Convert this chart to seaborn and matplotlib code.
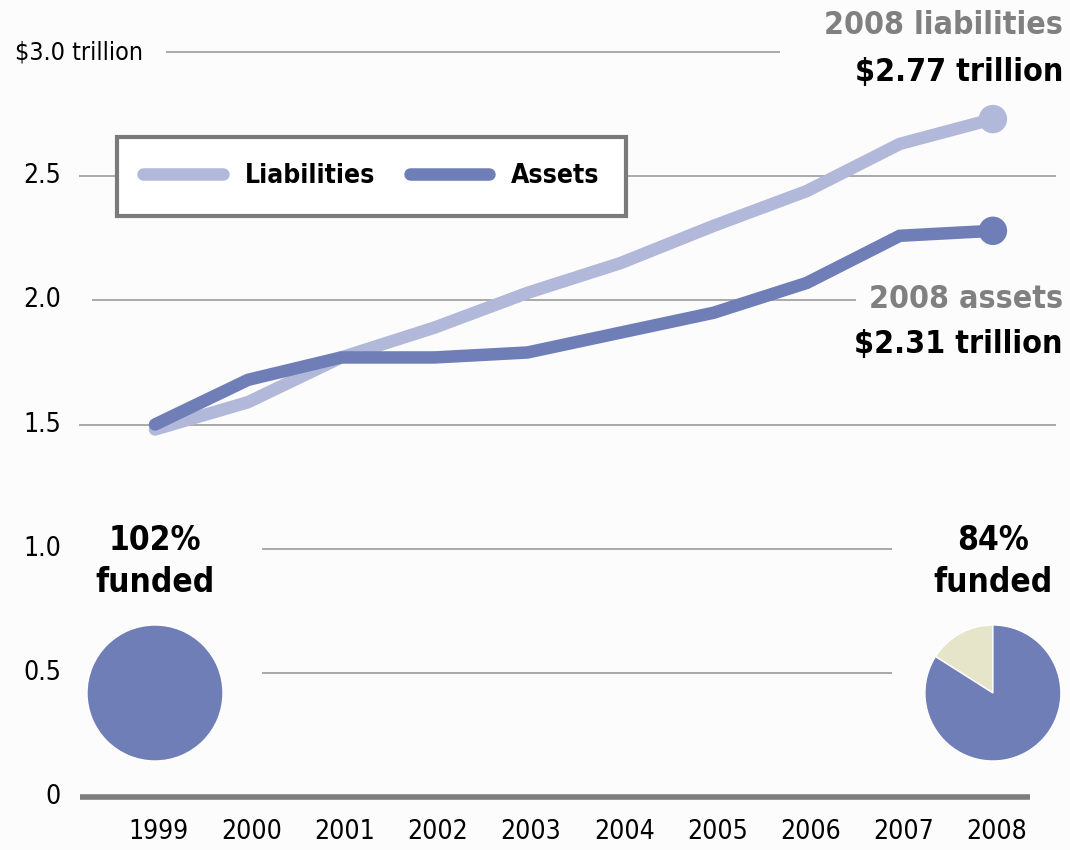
import numpy as np
import pandas as pd
import matplotlib
matplotlib.use("Agg")
import matplotlib.pyplot as plt
import seaborn as sns
from matplotlib import font_manager
from matplotlib.lines import Line2D

# values (trillions of dollars)
years = [1999, 2000, 2001, 2002, 2003, 2004, 2005, 2006, 2007, 2008]
liabilities = [1.48, 1.59, 1.77, 1.89, 2.03, 2.15, 2.30, 2.44, 2.63, 2.73]
assets = [1.50, 1.68, 1.77, 1.77, 1.79, 1.87, 1.95, 2.07, 2.26, 2.28]

ytick_values = [0, 0.5, 1.0, 1.5, 2.0, 2.5, 3.0]
ytick_labels = ["0", "0.5", "1.0", "1.5", "2.0", "2.5", "$3.0 trillion"]

# callouts printed on the chart
end_titles = ["2008 liabilities", "2008 assets"]
end_amounts = [2.77, 2.31]

pie_years = [1999, 2008]
funded_pct = [102, 84]

series_names = ["Liabilities", "Assets"]
colors = {"Liabilities": "#b2b8da", "Assets": "#6f7eb6"}
unfunded_color = "#e6e5c9"
bg = "#fcfcfc"

sns.set_theme(style="white")

# narrow-ish font if we have one
names = {f.name for f in font_manager.fontManager.ttflist}
if "Liberation Sans Narrow" in names:
    fam, stretch = ["Liberation Sans Narrow", "DejaVu Sans"], "normal"
else:
    fam, stretch = ["DejaVu Sans"], "condensed"
plt.rcParams["font.family"] = fam
plt.rcParams["font.stretch"] = stretch
plt.rcParams["text.color"] = "black"

df = pd.DataFrame({"year": years * 2,
                   "value": liabilities + assets,
                   "series": ["Liabilities"] * len(years) + ["Assets"] * len(years)})

W, H = 1070, 850
fig = plt.figure(figsize=(W / 100, H / 100), dpi=100, facecolor=bg)
ax = fig.add_axes([0, 0, 1, 1], facecolor=bg)

# pixel layout of the original: 1999 -> 155px, 93.1px per year; 0 -> 797px, 248.3px per unit
px_year0, px_per_year = 155, 93.1
py_zero, py_per_unit = 797, 248.33
ax.set_xlim(years[0] - px_year0 / px_per_year, years[0] + (W - px_year0) / px_per_year)
ax.set_ylim(-(H - py_zero) / py_per_unit, py_zero / py_per_unit)
ax.axis("off")


def px2x(px):
    return years[0] + (px - px_year0) / px_per_year


def py2y(py):
    return (py_zero - py) / py_per_unit


# gridlines (partial, as in the original)
grid_spans = {3.0: (166, 780), 2.5: (79, 1056), 2.0: (92, 856),
              1.5: (79, 1056), 1.0: (262, 892), 0.5: (262, 892)}
for v, (a, b) in grid_spans.items():
    ax.hlines(v, px2x(a), px2x(b), color="#a3a3a3", lw=1.3, zorder=0)
ax.hlines(0, px2x(80), px2x(1030), color="#7d7d7d", lw=4, zorder=0)

# y labels
ytrans = ax.get_yaxis_transform()
for v, lab in zip(ytick_values, ytick_labels):
    if lab.startswith("$"):
        ax.text(15 / W, v, lab, transform=ytrans, ha="left", va="center", fontsize=18)
    else:
        ax.text(61 / W, v, lab, transform=ytrans, ha="right", va="center", fontsize=19)

# x labels
for yr in years:
    ax.text(yr + 0.04, py2y(832), str(yr), ha="center", va="center", fontsize=19)

# lines
sns.lineplot(data=df, x="year", y="value", hue="series", hue_order=series_names,
             palette=colors, linewidth=9, legend=False, ax=ax, zorder=3)
for ln in ax.lines:
    ln.set_solid_capstyle("round")
    ln.set_solid_joinstyle("round")

last = df[df["year"] == years[-1]]
sns.scatterplot(data=last, x="year", y="value", hue="series", hue_order=series_names,
                palette=colors, s=420, edgecolor="none", legend=False, ax=ax, zorder=4)

# end labels
rx = 1063 / W
label_rows = [(25, 72), (300, 345)]
for title, amount, (py_t, py_a) in zip(end_titles, end_amounts, label_rows):
    ax.text(rx, py2y(py_t), title, transform=ytrans, ha="right", va="center",
            fontsize=23, fontweight="bold", color="#808080")
    ax.text(rx, py2y(py_a), f"${amount:.2f} trillion", transform=ytrans,
            ha="right", va="center", fontsize=23, fontweight="bold", color="black")

# legend
handles = [Line2D([0], [0], color=colors[n], lw=9, solid_capstyle="round") for n in series_names]
leg = ax.legend(handles, series_names, loc="upper left",
                bbox_to_anchor=(117 / W, 1 - 137 / H), bbox_transform=fig.transFigure,
                ncol=2, frameon=True, fancybox=False, borderaxespad=0, framealpha=1,
                handlelength=3.0, handletextpad=0.85, columnspacing=1.3, borderpad=1.0,
                prop=dict(weight="bold", size=19, family=fam, stretch=stretch))
leg.get_frame().set_edgecolor("#7a7a7a")
leg.get_frame().set_linewidth(3)
leg.get_frame().set_facecolor("white")
leg.set_zorder(5)

# funded pies
fig.canvas.draw()
r = 68
for yr, pct in zip(pie_years, funded_pct):
    cx, _ = ax.transData.transform((yr, 0))
    cy = H - 693
    pax = fig.add_axes([(cx - r) / W, (cy - r) / H, 2 * r / W, 2 * r / H])
    unfunded = max(0, 100 - pct)
    vals = [unfunded, min(pct, 100)] if unfunded > 0 else [100]
    cols = [unfunded_color, colors["Assets"]] if unfunded > 0 else [colors["Assets"]]
    pax.pie(vals, colors=cols, startangle=90, counterclock=True,
            wedgeprops=dict(edgecolor="white", linewidth=1))
    pax.set_xlim(-1, 1)
    pax.set_ylim(-1, 1)
    ax.text(yr, py2y(540), f"{pct}%", ha="center", va="center",
            fontsize=24, fontweight="bold")
    ax.text(yr, py2y(582), "funded", ha="center", va="center",
            fontsize=24, fontweight="bold")

fig.savefig("out.png", dpi=100, facecolor=bg)
